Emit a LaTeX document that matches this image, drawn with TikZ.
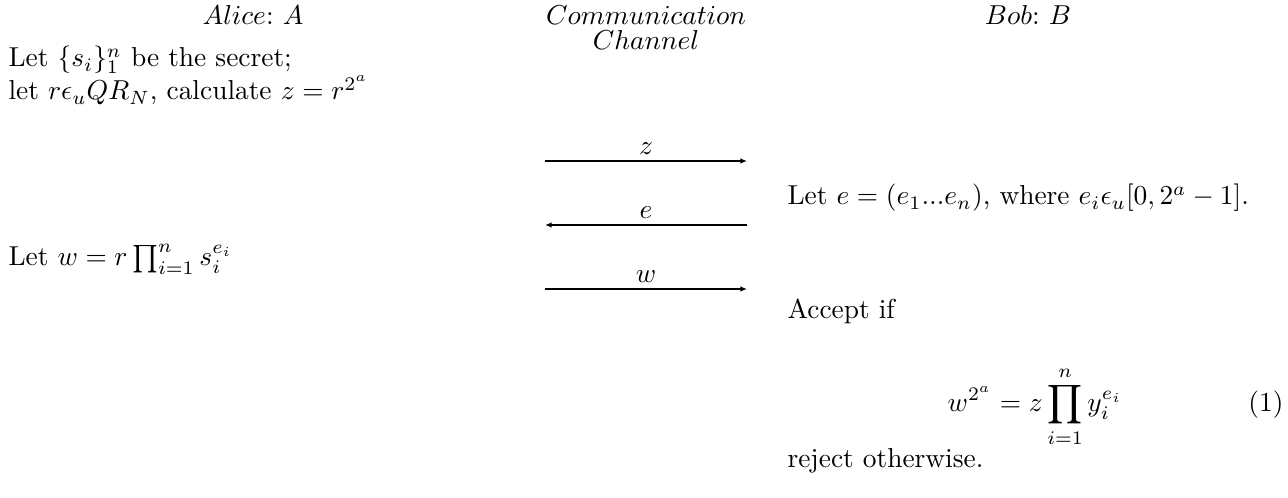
\documentclass[tikz,border=0pt]{standalone}
\usetikzlibrary{arrows.meta}
\begin{document}
\begin{tikzpicture}[x=0.365pt,y=-0.365pt,
  txt/.style={inner sep=0pt, anchor=base west},
  hdr/.style={inner sep=0pt, anchor=base},
  msg/.style={line width=0.7pt, -{Latex[length=2.4pt,width=2pt]}},
  lbl/.style={inner sep=0pt, above=2pt}]
\useasboundingbox (0,0) rectangle (1288,498);
% headers
\node[hdr] (alice) at (253,25) {$Alice{:}\ A$};
\node[hdr] (chan1) at (646,25) {$Communication$};
\node[hdr] (chan2) at (646,50) {$Channel$};
\node[hdr] (bob) at (1028,25) {$Bob{:}\ B$};
% Alice
\node[txt] (a1) at (8,67) {Let $\{s_i\}_1^n$ be the secret;};
\node[txt] (a2) at (8,100) {let $r\epsilon_u QR_N$, calculate $z=r^{2^a}$};
\node[txt] (a3) at (8,266) {Let $w=r\prod_{i=1}^n s_i^{e_i}$};
% channel
\coordinate (zL) at (545,161); \coordinate (zR) at (747,161);
\coordinate (eL) at (545,225); \coordinate (eR) at (747,225);
\coordinate (wL) at (545,289); \coordinate (wR) at (747,289);
\draw[msg] (zL) -- node[lbl] (zl) {$z$} (zR);
\draw[msg] (eR) -- node[lbl] (el) {$e$} (eL);
\draw[msg] (wL) -- node[lbl] (wl) {$w$} (wR);
% Bob
\node[txt] (b1) at (787,205) {Let $e=(e_1...e_n)$, where $e_i\epsilon_u[0,2^a-1]$.};
\node[txt] (b2) at (787,319) {Accept if};
\node[inner sep=0pt, anchor=base] (eq) at (1035,412) {$\displaystyle w^{2^a}=z\prod_{i=1}^n y_i^{e_i}$};
\node[inner sep=0pt, anchor=base east] (eqn) at (1284,412) {(1)};
\node[txt] (b3) at (787,468) {reject otherwise.};
\end{tikzpicture}
\end{document}
